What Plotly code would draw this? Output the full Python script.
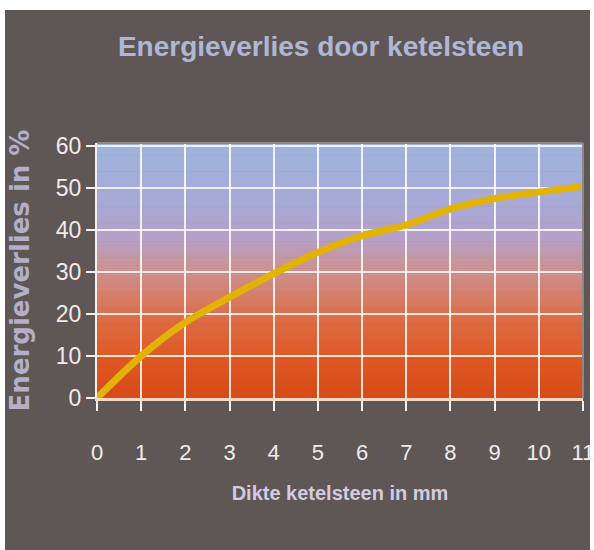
import plotly.graph_objects as go

# Data
thickness_mm = [0, 1, 2, 3, 4, 5, 6, 7, 8, 9, 10, 11]
energy_loss_pct = [0, 10, 18, 24, 29.6, 34.7, 38.6, 41.2, 45, 47.5, 49, 50.4]
x_ticks = list(range(0, 12))
y_ticks = [0, 10, 20, 30, 40, 50, 60]

title_text = "Energieverlies door ketelsteen"
x_title = "Dikte ketelsteen in mm"
y_title = "Energieverlies in %"

# gradient stops (fraction of plot height from bottom, colour)
grad_stops = [
    (0.00, (214, 74, 22)),
    (0.15, (222, 88, 36)),
    (0.30, (222, 106, 66)),
    (0.42, (212, 130, 112)),
    (0.52, (200, 148, 152)),
    (0.63, (180, 160, 200)),
    (0.78, (166, 170, 216)),
    (1.00, (158, 180, 220)),
]

def interp_color(t):
    for (t0, c0), (t1, c1) in zip(grad_stops[:-1], grad_stops[1:]):
        if t0 <= t <= t1:
            f = (t - t0) / (t1 - t0) if t1 > t0 else 0
            c = [round(a + (b - a) * f) for a, b in zip(c0, c1)]
            return f"rgb({c[0]},{c[1]},{c[2]})"
    c = grad_stops[-1][1]
    return f"rgb({c[0]},{c[1]},{c[2]})"

shapes = []
N = 80
for i in range(N):
    shapes.append(dict(
        type="rect", xref="x domain", yref="y domain",
        x0=0, x1=1, y0=i / N, y1=(i + 1) / N + 0.002,
        fillcolor=interp_color((i + 0.5) / N), line=dict(width=0), layer="below",
    ))

# white scanner strips at image edges (pixel -> paper)
L, R, T, B = 97, 583, 143, 398
W, H = R - L, B - T
def px(xp): return (xp - L) / W
def py(yp): return (B - yp) / H

shapes += [
    dict(type="rect", xref="paper", yref="paper", x0=px(-5), x1=px(5), y0=py(560), y1=py(-5),
         fillcolor="white", line=dict(width=0), layer="below"),
    dict(type="rect", xref="paper", yref="paper", x0=px(-5), x1=px(600), y0=py(10), y1=py(-5),
         fillcolor="white", line=dict(width=0), layer="below"),
    dict(type="rect", xref="paper", yref="paper", x0=px(590), x1=px(600), y0=py(560), y1=py(-5),
         fillcolor="white", line=dict(width=0), layer="below"),
    # top & right frame of plot area
    dict(type="line", xref="paper", yref="paper", x0=0, x1=1, y0=1, y1=1,
         line=dict(color="#8d8886", width=2), layer="above"),
    dict(type="line", xref="paper", yref="paper", x0=1, x1=1, y0=0, y1=1,
         line=dict(color="#8d8886", width=2), layer="above"),
]

fig = go.Figure()
fig.add_trace(go.Scatter(
    x=thickness_mm, y=energy_loss_pct, mode="lines",
    line=dict(color="#e2b306", width=7, shape="spline", smoothing=0.8),
    hoverinfo="x+y", showlegend=False,
))

font = "Liberation Sans Narrow, Arial Narrow, Liberation Sans, sans-serif"

fig.update_layout(
    width=594, height=550,
    margin=dict(l=L, r=594 - R, t=T, b=550 - B, autoexpand=False),
    paper_bgcolor="#5e5755",
    plot_bgcolor="#5e5755",
    shapes=shapes,
    title=dict(
        text=f"<b>{title_text}</b>", x=321 / 594, xanchor="center",
        y=1 - 46 / 550, yanchor="middle",
        font=dict(family=font, size=28, color="#aeb8d6"),
    ),
    xaxis=dict(
        range=[0, 11], tickvals=x_ticks, ticktext=[str(v) for v in x_ticks],
        automargin=False, ticklabeloverflow="allow",
        showgrid=True, gridcolor="rgba(255,255,255,0.85)", gridwidth=1.5,
        zeroline=False, showline=True, linecolor="#f6d6c4", linewidth=3,
        ticks="outside", ticklen=10, tickwidth=2, tickcolor="#f4f0ee",
        ticklabelstandoff=23,
        tickfont=dict(family=font, size=22, color="#efebee"),
        title=dict(text=f"<b>{x_title}</b>", standoff=22,
                   font=dict(family=font, size=20, color="#d2cbe2")),
        fixedrange=True,
    ),
    yaxis=dict(
        range=[0, 60.7], tickvals=y_ticks, ticktext=[str(v) for v in y_ticks],
        automargin=False, ticklabeloverflow="allow",
        showgrid=True, gridcolor="rgba(255,250,248,0.85)", gridwidth=1.5,
        zeroline=False, showline=True, linecolor="#f4f0ee", linewidth=2,
        ticks="outside", ticklen=9, tickwidth=2, tickcolor="#f4f0ee",
        ticklabelstandoff=0,
        tickfont=dict(family=font, size=23, color="#efebee"),
        title=dict(text=f"<b>{y_title}</b>", standoff=19,
                   font=dict(family="DejaVu Sans, sans-serif", size=26, color="#b4aec6")),
        fixedrange=True,
    ),
)

fig.write_html(
    "out.html",
    config={"displayModeBar": False},
    post_script="document.body.style.margin='0';document.body.style.overflow='hidden';",
)
